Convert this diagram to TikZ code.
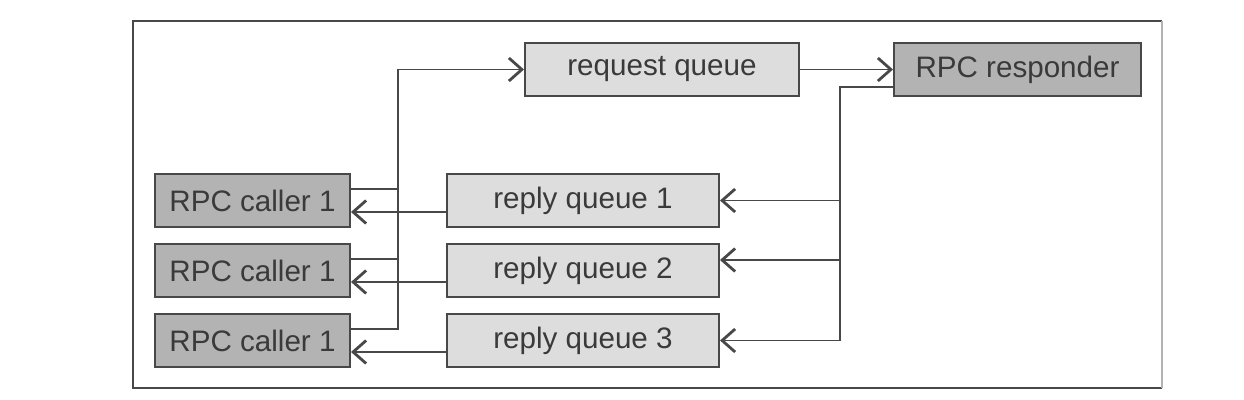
\documentclass[tikz,border=0pt]{standalone}
\usepackage{fontspec}
\setmainfont{Liberation Sans}
\usetikzlibrary{arrows.meta}
\definecolor{dark}{HTML}{B3B3B3}
\definecolor{light}{HTML}{DCDDDC}
\definecolor{edge}{HTML}{484848}
\definecolor{ink}{HTML}{3A3A3A}
\begin{document}
\begin{tikzpicture}[x=0.5pt,y=-0.5pt,
  box/.style={draw=edge, line width=1pt, minimum height=26.5pt, inner sep=0pt,
    text=ink, font=\fontsize{14.8}{16}\selectfont},
  darkbox/.style={box, fill=dark},
  lightbox/.style={box, fill=light},
  conn/.style={draw=edge, line width=0.95pt},
  arr/.style={conn, -{Straight Barb[length=6.5pt,width=11.5pt,line width=1.4pt]}}
]
\useasboundingbox (0,0) rectangle (1244,400);
\fill[white] (0,0) rectangle (1244,400);
% frame
\draw[edge, line width=1.2pt] (1162,21) -- (133,21) -- (133,388) -- (1162,388);
\draw[gray!60, line width=1.2pt] (1162,21) -- (1162,388);

% nodes
\node[lightbox, minimum width=137pt] (req) at (662,69.5) {request queue};
\node[darkbox, minimum width=123.5pt] (resp) at (1017.5,69.5) {RPC responder};
\node[darkbox, minimum width=97.5pt] (c1) at (252.5,200.5) {RPC caller 1};
\node[darkbox, minimum width=97.5pt] (c2) at (252.5,270.5) {RPC caller 1};
\node[darkbox, minimum width=97.5pt] (c3) at (252.5,340.5) {RPC caller 1};
\node[lightbox, minimum width=136pt] (q1) at (583,200.5) {reply queue 1};
\node[lightbox, minimum width=136pt] (q2) at (583,270.5) {reply queue 2};
\node[lightbox, minimum width=136pt] (q3) at (583,340.5) {reply queue 3};

\coordinate (bus) at (398,69.5);
\coordinate (rbus) at (840,87);
\coordinate (q2in) at ([yshift=5.25pt]q2.east);

% callers to request queue
\draw[arr] ([yshift=5.75pt]c3.east) -| (bus) -- (req.west);
\draw[conn] ([yshift=5.75pt]c2.east) -| (bus);
\draw[conn] ([yshift=5.75pt]c1.east) -| (bus);

% request queue to responder
\draw[arr] (req.east) -- (resp.west);

% responder to reply queues
\draw[arr] ([yshift=-8.75pt]resp.west) -| (rbus |- q3.east) -- (q3.east);
\draw[arr] (rbus |- q1.east) -- (q1.east);
\draw[arr] (rbus |- q2in) -- (q2in);

% reply queues to callers
\draw[arr] ([yshift=-5.75pt]q1.west) -- ([yshift=-5.75pt]c1.east);
\draw[arr] ([yshift=-5.75pt]q2.west) -- ([yshift=-5.75pt]c2.east);
\draw[arr] ([yshift=-5.75pt]q3.west) -- ([yshift=-5.75pt]c3.east);
\end{tikzpicture}
\end{document}
